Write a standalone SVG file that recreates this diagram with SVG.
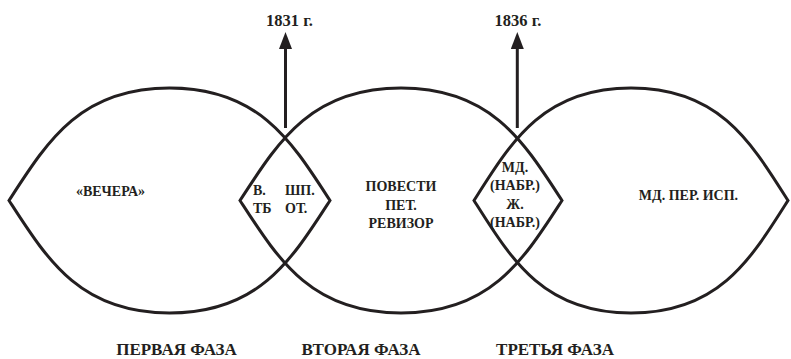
<svg xmlns="http://www.w3.org/2000/svg" width="791" height="359" viewBox="0 0 791 359">
<style>
.lens{fill:none;stroke:#231f20;stroke-width:3}
.arr{stroke:#231f20;stroke-width:3}
text{font-family:"Liberation Serif","Times New Roman",serif;font-weight:bold;fill:#231f20}
.t{font-size:14px}
.c{text-anchor:middle}
.y{font-size:16.5px;text-anchor:middle}
.p{font-size:17px;text-anchor:middle}
</style>
<defs>
<marker id="ah" viewBox="0 0 17 13" refX="0" refY="6.5" markerWidth="17" markerHeight="13" markerUnits="userSpaceOnUse" orient="auto">
<path d="M0,0 L17,6.5 L0,13 Z" fill="#231f20"/>
</marker>
</defs>
<g id="lens-phase1">
<path class="lens" d="M9,200.5 C47.1,141.8 79.5,88 169.5,88 C259.5,88 291.9,141.8 330,200.5 C291.9,259.2 259.5,313 169.5,313 C79.5,313 47.1,259.2 9,200.5 Z"/>
<text class="t c" x="110.5" y="196">«ВЕЧЕРА»</text>
</g>
<g id="lens-phase2">
<path class="lens" d="M240,200.5 C278.2,141.8 310.7,88 401,88 C491.3,88 523.8,141.8 562,200.5 C523.8,259.2 491.3,313 401,313 C310.7,313 278.2,259.2 240,200.5 Z"/>
<text class="t c" x="401" y="191">ПОВЕСТИ</text>
<text class="t c" x="401" y="209.5">ПЕТ.</text>
<text class="t c" x="401" y="228">РЕВИЗОР</text>
</g>
<g id="lens-phase3">
<path class="lens" d="M474,200.5 C511.2,141.8 542.9,88 631,88 C719.1,88 750.8,141.8 788,200.5 C750.8,259.2 719.1,313 631,313 C542.9,313 511.2,259.2 474,200.5 Z"/>
<text class="t c" x="688.5" y="200">МД. ПЕР. ИСП.</text>
</g>
<g id="overlap-1-2">
<text class="t" x="253" y="195">В.</text>
<text class="t" x="285" y="195">ШП.</text>
<text class="t" x="253" y="213">ТБ</text>
<text class="t" x="285" y="213">ОТ.</text>
</g>
<g id="overlap-2-3">
<text class="t c" x="515" y="172">МД.</text>
<text class="t c" x="515" y="190">(НАБР.)</text>
<text class="t c" x="515" y="208.5">Ж.</text>
<text class="t c" x="515" y="226.5">(НАБР.)</text>
</g>
<g id="connectors">
<line class="arr" x1="285.5" y1="128" x2="285.5" y2="49" marker-end="url(#ah)"/>
<line class="arr" x1="517.3" y1="128" x2="517.3" y2="49" marker-end="url(#ah)"/>
</g>
<g id="year-1831"><text class="y" x="289.5" y="26">1831 г.</text></g>
<g id="year-1836"><text class="y" x="518" y="26">1836 г.</text></g>
<g id="phase-labels">
<text class="p" x="176.5" y="355">ПЕРВАЯ ФАЗА</text>
<text class="p" x="361" y="355">ВТОРАЯ ФАЗА</text>
<text class="p" x="555" y="355">ТРЕТЬЯ ФАЗА</text>
</g>
</svg>
